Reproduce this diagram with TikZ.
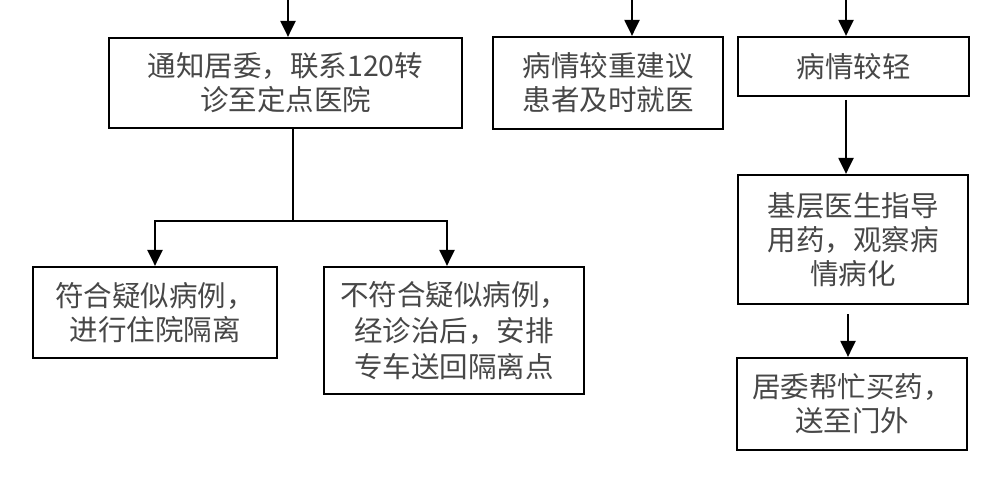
\documentclass[tikz,border=0pt]{standalone}
\usepackage{fontspec}
\setmainfont{Noto Sans CJK SC}
\usetikzlibrary{arrows.meta,positioning,calc}
\begin{document}
\begin{tikzpicture}[x=1pt,y=-1pt,
  box/.style={draw=black,line width=2.2pt,fill=white,inner sep=0pt,align=center,
    text=black!72,font=\fontsize{28.5}{34}\selectfont},
  arr/.style={line width=2.2pt,-{Triangle[width=15pt,length=16pt]}},
  ln/.style={line width=2.2pt}]
\useasboundingbox (0,0) rectangle (1000,481);
\node[box,minimum width=353pt,minimum height=90pt] (b1) at (285.5,83) {通知居委，联系120转\\诊至定点医院};
\node[box,minimum width=230pt,minimum height=92pt] (b2) at (608,83) {病情较重建议\\患者及时就医};
\node[box,minimum width=231pt,minimum height=59pt] (b3) at (853.5,66.5) {病情较轻};
\node[box,minimum width=244pt,minimum height=91pt] (b4) at (155,312.5) {符合疑似病例，\\进行住院隔离};
\node[box,minimum width=260pt,minimum height=127pt,font=\fontsize{28.5}{36}\selectfont] (b5) at (454,330.5) {不符合疑似病例，\\经诊治后，安排\\专车送回隔离点};
\node[box,minimum width=230pt,minimum height=129pt] (b6) at (853,239.5) {基层医生指导\\用药，观察病\\情病化};
\node[box,minimum width=230pt,minimum height=92pt] (b7) at (852,404) {居委帮忙买药，\\送至门外};
\coordinate (t1) at (288,-2);
\coordinate (t2) at (632,-2);
\coordinate (t3) at (846,-2);
\coordinate (s1) at (293,221);
\coordinate (l4) at (155,221);
\coordinate (l5) at (447,221);
\coordinate (s3) at (846,100);
\coordinate (s6) at (848,314);
\draw[arr] (t1) -- (t1 |- b1.north);
\draw[arr] (t2) -- (t2 |- b2.north);
\draw[arr] (t3) -- (t3 |- b3.north);
\draw[ln] (s1 |- b1.south) -- (s1);
\draw[arr] (s1) -- (l4) -- (l4 |- b4.north);
\draw[arr] (s1) -- (l5) -- (l5 |- b5.north);
\draw[arr] (s3) -- (s3 |- b6.north);
\draw[arr] (s6) -- (s6 |- b7.north);
\end{tikzpicture}
\end{document}
